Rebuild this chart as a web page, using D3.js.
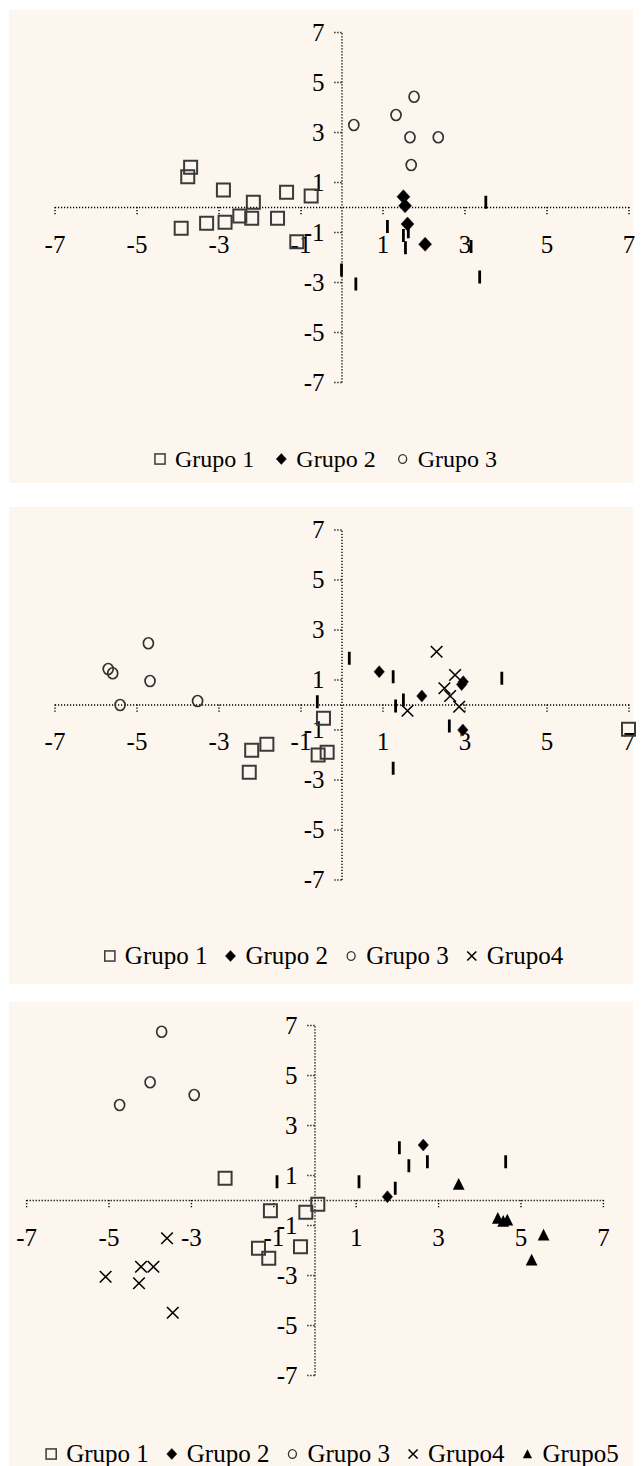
<!DOCTYPE html>
<html>
<head>
<meta charset="utf-8">
<script src="https://cdn.jsdelivr.net/npm/d3@7"></script>
<style>
  html, body { margin: 0; padding: 0; background: #ffffff; }
  svg { display: block; }
  svg text { font-family: "Liberation Serif", serif; }
</style>
</head>
<body>
<svg id="chart" width="641" height="1466"></svg>
<script>
// ---------------- DATA ----------------
const tickValues = [-7, -5, -3, -1, 1, 3, 5, 7];

// Panel 1
const p1Grupo1 = [[-3.68,1.59],[-3.75,1.21],[-2.88,0.68],[-2.15,0.19],[-1.34,0.59],[-0.74,0.44],
                  [-3.91,-0.85],[-3.29,-0.65],[-2.84,-0.61],[-2.48,-0.36],[-2.19,-0.45],[-1.56,-0.45],[-1.09,-1.39]];
const p1Grupo2 = [[1.51,0.41],[1.55,0.05],[1.61,-0.68],[2.04,-1.49]];
const p1Grupo3 = [[0.30,3.28],[1.33,3.68],[1.77,4.41],[1.67,2.79],[2.36,2.79],[1.70,1.68]];
const p1Otros  = [[3.52,0.19],[1.12,-0.78],[1.63,-0.99],[1.51,-1.14],[1.56,-1.63],[3.16,-1.58],[0.0,-2.52],[0.35,-3.08],[3.37,-2.80]];
const p1Labels = ["Grupo 1", "Grupo 2", "Grupo 3"];

// Panel 2
const p2Grupo1 = [[-0.44,-0.55],[-1.82,-1.59],[-2.19,-1.83],[-2.25,-2.71],[-0.35,-1.91],[-0.57,-2.02],[7.0,-0.99]];
const p2Grupo2 = [[0.92,1.31],[1.96,0.34],[2.97,0.91],[2.93,0.80],[2.96,-1.02]];
const p2Grupo3 = [[-5.69,1.42],[-5.58,1.25],[-4.71,2.45],[-4.67,0.94],[-5.40,-0.02],[-3.51,0.14]];
const p2Grupo4 = [[2.32,2.11],[2.77,1.18],[2.51,0.65],[2.65,0.34],[2.87,-0.09],[1.61,-0.25]];
const p2Otros  = [[0.19,1.85],[1.26,1.11],[3.91,1.05],[-0.59,0.11],[1.32,-0.06],[1.51,0.18],[2.63,-0.86],[1.26,-2.55]];
const p2Labels = ["Grupo 1", "Grupo 2", "Grupo 3", "Grupo4"];

// Panel 3
const p3Grupo1 = [[-2.17,0.87],[-1.07,-0.43],[-0.21,-0.49],[0.08,-0.17],[-1.36,-1.93],[-1.11,-2.33],[-0.34,-1.87]];
const p3Grupo2 = [[2.64,2.20],[1.77,0.13]];
const p3Grupo3 = [[-3.71,6.73],[-3.99,4.71],[-4.73,3.80],[-2.92,4.20]];
const p3Grupo4 = [[-3.58,-1.53],[-5.07,-3.07],[-4.21,-2.67],[-3.91,-2.67],[-4.26,-3.33],[-3.44,-4.51]];
const p3Grupo5 = [[3.50,0.63],[4.45,-0.73],[4.58,-0.85],[4.68,-0.80],[5.56,-1.40],[5.27,-2.40]];
const p3Otros  = [[-0.91,0.73],[1.08,0.73],[1.96,0.47],[2.29,1.37],[2.06,2.09],[2.74,1.53],[4.64,1.53]];
const p3Labels = ["Grupo 1", "Grupo 2", "Grupo 3", "Grupo4", "Grupo5"];

// ---------------- LAYOUT ----------------
const FONT = "Liberation Serif";
const BG = "#FDF6EF";

const panels = [
  { top: 10, bottom: 483, ox: 341.5, kx: 41, oy: 207, ky: 25, legendY: 459, legendCx: 326, legendFont: 24, gap: 22,
    series: [["square", p1Grupo1], ["diamond", p1Grupo2], ["circle", p1Grupo3], ["bar", p1Otros]],
    legend: [["square", p1Labels[0]], ["diamond", p1Labels[1]], ["circle", p1Labels[2]]], big: true },
  { top: 507, bottom: 984, ox: 341.5, kx: 41, oy: 704.5, ky: 25, legendY: 956, legendCx: 334, legendFont: 25, gap: 18,
    series: [["square", p2Grupo1], ["diamond", p2Grupo2], ["circle", p2Grupo3], ["cross", p2Grupo4], ["bar", p2Otros]],
    legend: [["square", p2Labels[0]], ["diamond", p2Labels[1]], ["circle", p2Labels[2]], ["cross", p2Labels[3]]] },
  { top: 1002, bottom: 1466, ox: 314.5, kx: 41.2, oy: 1200, ky: 25, legendY: 1454, legendCx: 332.5, legendFont: 25, gap: 18,
    series: [["square", p3Grupo1], ["diamond", p3Grupo2], ["circle", p3Grupo3], ["cross", p3Grupo4], ["triangle", p3Grupo5], ["bar", p3Otros]],
    legend: [["square", p3Labels[0]], ["diamond", p3Labels[1]], ["circle", p3Labels[2]], ["cross", p3Labels[3]], ["triangle", p3Labels[4]]] }
];

const svg = d3.select("#chart").attr("font-family", FONT);

function drawMarker(g, type, s, big) {
  if (type === "square") {
    const h = 6.5 * s;
    g.append("rect").attr("x", -h).attr("y", -h).attr("width", 2 * h).attr("height", 2 * h)
      .attr("fill", "none").attr("stroke", "#3a3a3a").attr("stroke-width", s < 1 ? 1.5 : 2);
  } else if (type === "diamond") {
    const w = (big ? 6.5 : 5.2) * s, h = (big ? 7 : 6) * s;
    g.append("path").attr("d", `M0,${-h}L${w},0L0,${h}L${-w},0Z`).attr("fill", "#000")
      .attr("stroke", "#222").attr("stroke-width", 0.6);
  } else if (type === "circle") {
    g.append("ellipse").attr("rx", 5 * s).attr("ry", 5.5 * s)
      .attr("fill", "none").attr("stroke", "#333").attr("stroke-width", s < 1 ? 1.3 : 1.7);
  } else if (type === "cross") {
    const h = 5.8 * s;
    g.append("path").attr("d", `M${-h},${-h}L${h},${h}M${h},${-h}L${-h},${h}`)
      .attr("stroke", "#000").attr("stroke-width", 1.6).attr("fill", "none");
  } else if (type === "triangle") {
    const h = 6.2 * s;
    g.append("path").attr("d", `M0,${-h}L${h * 0.95},${h * 0.9}L${-h * 0.95},${h * 0.9}Z`).attr("fill", "#000");
  } else if (type === "bar") {
    g.append("rect").attr("x", -1.4).attr("y", -6.5).attr("width", 2.8).attr("height", 13).attr("fill", "#000");
  }
}

panels.forEach(p => {
  svg.append("rect").attr("x", 9).attr("y", p.top).attr("width", 624).attr("height", p.bottom - p.top).attr("fill", BG);

  const x = d3.scaleLinear().domain([-7, 7]).range([p.ox - 7 * p.kx, p.ox + 7 * p.kx]);
  const y = d3.scaleLinear().domain([-7, 7]).range([p.oy + 7 * p.ky, p.oy - 7 * p.ky]);

  const g = svg.append("g");

  const fmt = d => String(d).replace("\u2212", "-");
  const xAxis = d3.axisBottom(x).tickValues(tickValues).tickSize(8).tickSizeOuter(0).tickPadding(20).tickFormat(fmt);
  const xg = g.append("g").attr("transform", `translate(0,${y(0)})`).call(xAxis);
  const yAxis = d3.axisLeft(y).tickValues(tickValues).tickSize(8).tickSizeOuter(0).tickPadding(9).tickFormat(fmt);
  const yg = g.append("g").attr("transform", `translate(${x(0)},0)`).call(yAxis);

  [xg, yg].forEach(ax => {
    ax.attr("font-family", FONT).attr("font-size", 25);
    ax.select(".domain").attr("stroke", "#000").attr("stroke-width", 1.4).attr("stroke-dasharray", "1.2,1.8");
    ax.selectAll(".tick line").attr("stroke", "#000").attr("stroke-width", 1.4).attr("stroke-dasharray", "1.2,1.8");
    ax.selectAll(".tick text").attr("fill", "#000").attr("font-family", FONT).style("font-family", FONT).style("font-size", "25px");
  });

  p.series.forEach(([type, data]) => {
    g.append("g").selectAll("g").data(data).join("g")
      .attr("transform", d => `translate(${x(d[0])},${y(d[1])})`)
      .each(function () { drawMarker(d3.select(this), type, 1, p.big); });
  });

  const lg = svg.append("g");
  let cursor = 0;
  p.legend.forEach(([type, label]) => {
    const sg = lg.append("g").attr("transform", `translate(${cursor + 5},0)`);
    drawMarker(sg, type, type === "circle" ? 0.8 : 0.78, true);
    const t = lg.append("text").attr("x", cursor + 20).attr("y", p.legendFont * 0.33)
      .attr("font-family", FONT).style("font-family", FONT).style("font-size", p.legendFont + "px").attr("fill", "#000").text(label);
    cursor = cursor + 20 + t.node().getComputedTextLength() + p.gap;
  });
  const total = cursor - p.gap;
  lg.attr("transform", `translate(${p.legendCx - total / 2},${p.legendY})`);
});
</script>
</body>
</html>
